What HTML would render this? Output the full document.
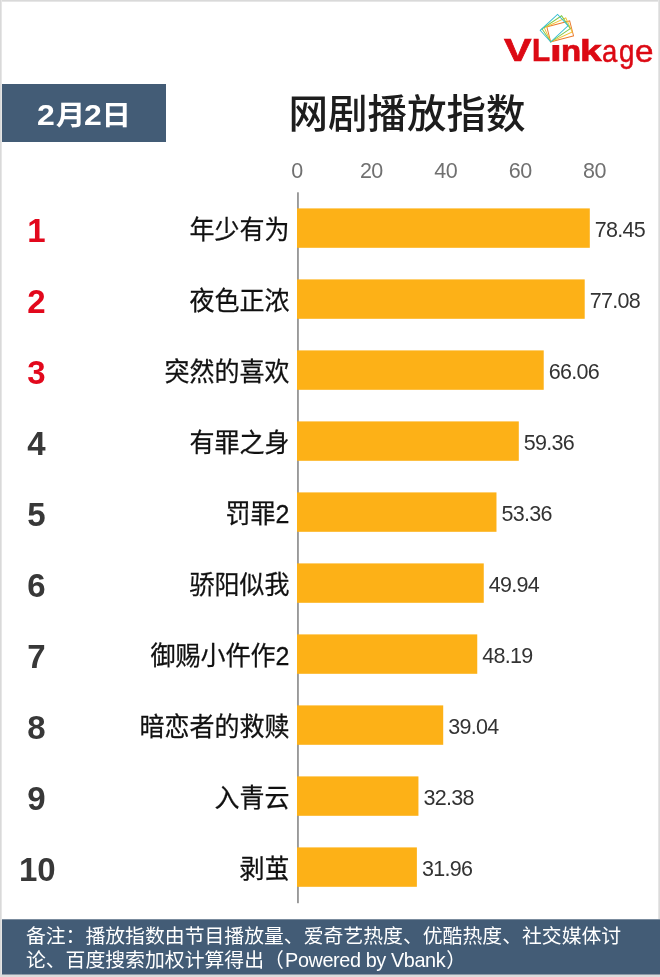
<!DOCTYPE html>
<html lang="zh-CN">
<head>
<meta charset="utf-8">
<title>网剧播放指数</title>
<style>
html,body{margin:0;padding:0;}
body{width:660px;height:977px;position:relative;overflow:hidden;background:#fff;
 font-family:"Liberation Sans","Noto Sans CJK SC",sans-serif;color:#1c1c1c;}
.abs{position:absolute;}
.bd{position:absolute;background:#dadada;}
.date{position:absolute;left:2px;top:84px;width:164px;height:58px;background:#435c76;}
.date span{position:absolute;top:0;color:#fff;font-weight:bold;line-height:58px;white-space:nowrap;}
.date .d{font-size:30.2px;transform:scaleX(1.06);transform-origin:0 50%;}
.date .c{font-size:29.5px;transform:scaleY(0.94);}
.title{position:absolute;left:288.4px;top:85.4px;font-size:39.5px;line-height:58px;white-space:nowrap;color:#1d1d1d;font-weight:500;}
.tick{position:absolute;top:158.3px;width:60px;margin-left:-30.8px;text-align:center;font-size:21.5px;line-height:26px;color:#707070;letter-spacing:-0.5px;text-indent:-0.5px;}
.val{position:absolute;font-size:21.5px;line-height:40px;color:#333;white-space:nowrap;letter-spacing:-0.7px;}
.name{position:absolute;right:370.5px;font-size:25px;line-height:40px;white-space:nowrap;color:#111;text-align:right;-webkit-text-stroke:0.25px #111;transform:scaleY(1.035);}
.rank{position:absolute;left:0;width:74px;text-align:center;font-size:33px;line-height:40px;font-weight:bold;color:#383838;}
.rank.red{color:#e2081c;}
.logo span{position:absolute;line-height:40px;color:#dc0a14;transform-origin:0 0;white-space:nowrap;}
.logo .b{font-weight:bold;-webkit-text-stroke:0.7px #dc0a14;}
.logo .r{-webkit-text-stroke:0.5px #dc0a14;}
.foot{position:absolute;left:2px;top:919px;width:658px;height:55.5px;}
.foot p{position:absolute;left:23.9px;top:6.3px;margin:0;width:620px;color:#fff;font-size:19.85px;line-height:23.3px;}
.foot p span{letter-spacing:-0.4px;margin-left:1.2px;margin-right:1px;}
</style>
</head>
<body>
<div class="bd" style="left:0;top:0;width:660px;height:2px;background:linear-gradient(to bottom,#d9d9d9 0,#d9d9d9 1px,#e6e6e6 1px,#e6e6e6 2px)"></div>
<div class="bd" style="left:0;top:0;width:2px;height:977px;background:linear-gradient(to right,#d9d9d9 0,#d9d9d9 1px,#e6e6e6 1px,#e6e6e6 2px)"></div>
<div class="bd" style="left:658px;top:0;width:2px;height:919px;background:linear-gradient(to right,#e6e6e6 0,#e6e6e6 1px,#dbdbdb 1px,#dbdbdb 2px)"></div>
<div class="bd" style="left:0;top:974px;width:660px;height:3px;background:#dcdcdc"></div>

<div class="logo"><span class="b" style="left:504.20px;top:30.32px;font-size:31.7px;transform:scaleX(1.3)">V</span><span class="b" style="left:532.20px;top:30.32px;font-size:31.7px;transform:scaleX(0.935)">L</span><span class="b" style="left:549.75px;top:31.08px;font-size:29.5px;transform:scaleX(1.43)">i</span><span class="b" style="left:560.50px;top:31.08px;font-size:29.5px;transform:scaleX(1.12)">n</span><span class="b" style="left:579.90px;top:31.08px;font-size:29.5px;transform:scaleX(1.32)">k</span><span class="r" style="left:602.20px;top:30.73px;font-size:30.5px;transform:scaleX(0.9)">a</span><span class="r" style="left:619.00px;top:30.73px;font-size:30.5px;transform:scaleX(0.91)">g</span><span class="r" style="left:635.10px;top:30.73px;font-size:30.5px;transform:scaleX(1.09)">e</span></div>
<div class="abs" style="left:551px;top:38px;width:9.5px;height:6.8px;background:#fff"></div>
<svg class="abs" style="left:530px;top:4px" width="60" height="46" viewBox="530 4 60 46" fill="none" stroke-width="0.95" stroke-linejoin="miter"><rect x="550.7" y="26.3" width="23.6" height="15.5" stroke="#ea7a2b" transform="rotate(-14.5 550.7 41.8)"/><rect x="550.7" y="26.3" width="23.6" height="15.5" stroke="#f1c232" transform="rotate(-24.5 550.7 41.8)"/><rect x="550.7" y="26.3" width="23.6" height="15.5" stroke="#7fc747" transform="rotate(-34 550.7 41.8)"/><rect x="550.7" y="26.3" width="23.6" height="15.5" stroke="#36bdd1" transform="rotate(-42.6 550.7 41.8)"/></svg>
<div class="date"><span class="d" style="left:35.2px;top:1.5px">2</span><span class="c" style="left:53.8px;top:2.6px">月</span><span class="d" style="left:81.7px;top:1.5px">2</span><span class="c" style="left:99.4px;top:2.6px">日</span></div>
<div class="title">网剧播放指数</div>
<div class="tick" style="left:298.0px">0</div>
<div class="tick" style="left:372.4px">20</div>
<div class="tick" style="left:446.8px">40</div>
<div class="tick" style="left:521.2px">60</div>
<div class="tick" style="left:595.6px">80</div>
<div class="rank red" style="top:211.0px;left:-0.7px">1</div>
<div class="name" style="top:210.3px">年少有为</div>
<div class="val" style="top:210.0px;left:594.8px">78.45</div>
<div class="rank red" style="top:281.9px;left:-0.7px">2</div>
<div class="name" style="top:281.3px">夜色正浓</div>
<div class="val" style="top:281.0px;left:589.7px">77.08</div>
<div class="rank red" style="top:352.9px;left:-0.7px">3</div>
<div class="name" style="top:352.3px">突然的喜欢</div>
<div class="val" style="top:352.0px;left:548.7px">66.06</div>
<div class="rank" style="top:423.8px;left:-0.7px">4</div>
<div class="name" style="top:423.3px">有罪之身</div>
<div class="val" style="top:423.0px;left:523.8px">59.36</div>
<div class="rank" style="top:494.8px;left:-0.7px">5</div>
<div class="name" style="top:494.3px">罚罪2</div>
<div class="val" style="top:494.0px;left:501.5px">53.36</div>
<div class="rank" style="top:565.7px;left:-0.7px">6</div>
<div class="name" style="top:565.3px">骄阳似我</div>
<div class="val" style="top:565.0px;left:488.8px">49.94</div>
<div class="rank" style="top:636.6px;left:-0.7px">7</div>
<div class="name" style="top:636.3px">御赐小仵作2</div>
<div class="val" style="top:636.0px;left:482.2px">48.19</div>
<div class="rank" style="top:707.6px;left:-0.7px">8</div>
<div class="name" style="top:707.3px">暗恋者的救赎</div>
<div class="val" style="top:707.0px;left:448.2px">39.04</div>
<div class="rank" style="top:778.5px;left:-0.7px">9</div>
<div class="name" style="top:778.3px">入青云</div>
<div class="val" style="top:778.0px;left:423.4px">32.38</div>
<div class="rank" style="top:849.5px;left:0.3px">10</div>
<div class="name" style="top:849.3px">剥茧</div>
<div class="val" style="top:849.0px;left:421.9px">31.96</div>
<svg class="abs" style="left:0;top:0" width="660" height="977" viewBox="0 0 660 977"><rect x="2" y="919.3" width="658" height="55.2" fill="#435c76"/><rect x="297.1" y="192.3" width="1.7" height="710.9" fill="#8e8e8e"/><g fill="#fdb117"><rect x="297" y="208.40" width="292.80" height="39.4"/><rect x="297" y="279.40" width="287.71" height="39.4"/><rect x="297" y="350.40" width="246.72" height="39.4"/><rect x="297" y="421.40" width="221.80" height="39.4"/><rect x="297" y="492.40" width="199.48" height="39.4"/><rect x="297" y="563.40" width="186.76" height="39.4"/><rect x="297" y="634.40" width="180.25" height="39.4"/><rect x="297" y="705.40" width="146.21" height="39.4"/><rect x="297" y="776.40" width="121.44" height="39.4"/><rect x="297" y="847.40" width="119.88" height="39.4"/></g></svg>
<div class="foot"><p>备注：播放指数由节目播放量、爱奇艺热度、优酷热度、社交媒体讨论、百度搜索加权计算得出（<span>Powered by Vbank</span>）</p></div>
</body>
</html>
